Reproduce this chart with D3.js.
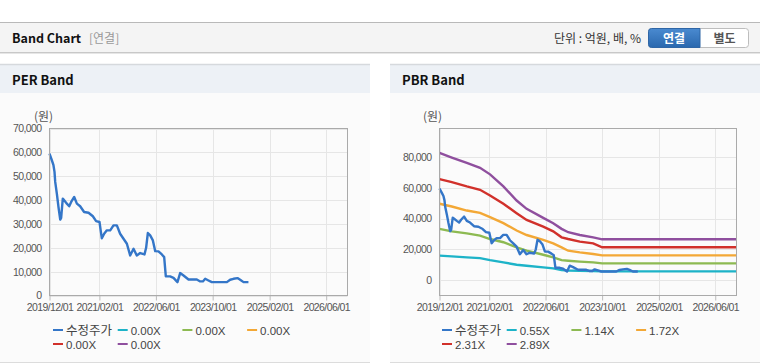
<!DOCTYPE html>
<html>
<head>
<meta charset="utf-8">
<script src="https://cdn.jsdelivr.net/npm/d3@7"></script>
<style>
  html, body { margin: 0; padding: 0; background: #fff; }
  svg { display: block; font-family: "Liberation Sans", Arial, sans-serif; }
  .kr { font-family: "Noto Sans CJK KR", "Noto Sans", sans-serif; }
  .tick-label { font-size: 10.5px; fill: #555; letter-spacing: -0.6px; }
</style>
</head>
<body>
<svg id="chart" width="760" height="364"></svg>
<script>
// price (수정주가) – same series in both panels
const priceDates = ['2019-12-01','2019-12-21','2020-01-04','2020-01-13','2020-01-19','2020-02-02','2020-02-16','2020-03-02','2020-03-10','2020-03-24','2020-04-05','2020-04-28','2020-05-18','2020-06-04','2020-06-30','2020-07-23','2020-08-20','2020-09-23','2020-10-31','2020-12-07','2021-01-04','2021-02-02','2021-02-13','2021-02-22','2021-03-14','2021-04-06','2021-05-05','2021-06-02','2021-07-01','2021-07-29','2021-08-27','2021-09-25','2021-10-23','2021-11-21','2021-12-19','2022-01-17','2022-02-23','2022-03-09','2022-03-24','2022-04-13','2022-05-06','2022-05-26','2022-06-23','2022-07-22','2022-08-11','2022-08-25','2022-10-01','2022-10-30','2022-12-03','2022-12-26','2023-01-24','2023-03-08','2023-05-18','2023-06-16','2023-07-09','2023-07-29','2023-08-26','2023-09-24','2024-01-31','2024-02-28','2024-03-28','2024-05-01','2024-05-24','2024-06-22','2024-08-03'];
const priceValues = [59500,56700,54600,51800,47600,42700,37100,31800,32500,40600,39900,38500,37400,39200,41300,38500,37400,35000,34700,33200,31200,30800,27000,24000,25900,27300,27300,29400,29400,25900,23800,21700,16800,19600,16800,17800,17200,20000,26200,25200,23100,18600,18500,17200,16100,8000,8000,7400,5600,9400,8400,6700,6700,5900,5900,7000,6300,5600,5600,6600,7000,7300,6600,5600,5600];

// PBR band lines
const bandDates = ['2019-12-01','2020-03-16','2020-07-23','2020-11-14','2021-02-08','2021-06-03','2021-09-25','2021-12-20','2022-05-12','2022-08-06','2022-10-17','2022-12-13','2023-03-23','2023-07-16','2023-10-01','2026-12-01'];
const pbr055 = [15900,15400,14800,14300,13000,11500,10000,9300,8300,7600,6500,6200,6100,5900,5700,5700];
const pbr114 = [33300,31700,30400,28900,26700,24600,21300,19100,16500,14800,13000,12600,12000,11500,10900,10900];
const pbr172 = [49600,47800,45200,43700,40900,37000,32200,29300,26100,23900,21300,19100,18000,17000,16100,16100];
const pbr231 = [65650,63700,60900,58700,55000,49600,43500,39100,34800,31700,27800,26700,25000,23900,21300,21300];
const pbr289 = [82600,79600,76100,73000,68700,60900,51700,46300,40400,37000,33300,31100,29300,27800,26500,26500];

const xTickDates = ['2019/12/01','2021/02/01','2022/06/01','2023/10/01','2025/02/01','2026/06/01'];
const perTicks = [0,10000,20000,30000,40000,50000,60000,70000];
const pbrTicks = [0,20000,40000,60000,80000];

const perLegend = ['수정주가','0.00X','0.00X','0.00X','0.00X','0.00X'];
const pbrLegend = ['수정주가','0.55X','1.14X','1.72X','2.31X','2.89X'];
const colors = ['#3476c8','#1db3c8','#8dba52','#f3a836','#d1312b','#8f4f9e'];

const parse = d3.timeParse('%Y-%m-%d');
const parseTick = d3.timeParse('%Y/%m/%d');
const fmt = d3.format(',');

const svg = d3.select('#chart');

// ---- top header bar ----
svg.append('rect').attr('x', 0).attr('y', 22).attr('width', 760).attr('height', 31).attr('fill', '#f4f4f4');
svg.append('line').attr('x1', 0).attr('x2', 760).attr('y1', 22.5).attr('y2', 22.5).attr('stroke', '#b9b9b9');
svg.append('line').attr('x1', 0).attr('x2', 760).attr('y1', 52.5).attr('y2', 52.5).attr('stroke', '#c8c8c8');
svg.append('line').attr('x1', 0).attr('x2', 760).attr('y1', 53.5).attr('y2', 53.5).attr('stroke', '#e6e6e6');
svg.append('text').attr('class', 'kr').attr('x', 12).attr('y', 43)
  .attr('font-size', 12.5).attr('font-weight', 'bold').attr('fill', '#111').text('Band Chart');
svg.append('text').attr('class', 'kr').attr('x', 89).attr('y', 43)
  .attr('font-size', 12).attr('fill', '#999').text('[연결]');
svg.append('text').attr('class', 'kr').attr('x', 641).attr('y', 43).attr('text-anchor', 'end')
  .attr('font-size', 12).attr('fill', '#333').text('단위 : 억원, 배, %');

// toggle buttons
const grad = svg.append('defs').append('linearGradient').attr('id', 'btn').attr('x1', 0).attr('x2', 0).attr('y1', 0).attr('y2', 1);
grad.append('stop').attr('offset', 0).attr('stop-color', '#4a8ad0');
grad.append('stop').attr('offset', 1).attr('stop-color', '#2a68ae');
svg.append('rect').attr('x', 648.5).attr('y', 28.5).attr('width', 100).attr('height', 19).attr('rx', 3)
  .attr('fill', '#fff').attr('stroke', '#bdbdbd');
svg.append('path').attr('d', 'M700,28.5 H651.5 Q648.5,28.5 648.5,31.5 V44.5 Q648.5,47.5 651.5,47.5 H700 Z')
  .attr('fill', 'url(#btn)').attr('stroke', '#2f66a6');
svg.append('text').attr('class', 'kr').attr('x', 674).attr('y', 42.5).attr('text-anchor', 'middle')
  .attr('font-size', 12).attr('font-weight', 'bold').attr('fill', '#fff').text('연결');
svg.append('text').attr('class', 'kr').attr('x', 724.5).attr('y', 42.5).attr('text-anchor', 'middle')
  .attr('font-size', 12).attr('font-weight', 'bold').attr('fill', '#555').text('별도');

function drawPanel(cfg) {
  const g = svg.append('g');
  const px = cfg.panelX, pw = 370;

  g.append('rect').attr('x', px).attr('y', 65).attr('width', pw).attr('height', 297).attr('fill', '#fbfbfb');
  g.append('rect').attr('x', px).attr('y', 64).attr('width', pw).attr('height', 29).attr('fill', '#edf1f6');
  g.append('line').attr('x1', px).attr('x2', px + pw).attr('y1', 64.5).attr('y2', 64.5).attr('stroke', '#d6d9dd').attr('stroke-width', 1.5);
  g.append('line').attr('x1', px).attr('x2', px + pw).attr('y1', 362.5).attr('y2', 362.5).attr('stroke', '#dcdcdc');
  g.append('text').attr('class', 'kr').attr('x', px + 12).attr('y', 85)
    .attr('font-size', 13).attr('font-weight', 'bold').attr('fill', '#111').text(cfg.title);

  const left = cfg.left, right = cfg.right, top = 128.5, bottom = 295.5;
  const x = d3.scaleTime().domain([parse('2019-12-01'), parse('2026-12-01')]).range([left, right]);
  const y = d3.scaleLinear().domain(cfg.yDomain).range([bottom, top]);

  // grid
  const xt = xTickDates.map(parseTick);
  g.selectAll('.vgrid').data(xt).enter().append('line')
    .attr('x1', d => Math.round(x(d)) + 0.5).attr('x2', d => Math.round(x(d)) + 0.5)
    .attr('y1', top).attr('y2', bottom).attr('stroke', '#e6e6e6');
  g.selectAll('.hgrid').data(cfg.yTicks).enter().append('line')
    .attr('x1', left).attr('x2', right)
    .attr('y1', d => Math.round(y(d)) + 0.5).attr('y2', d => Math.round(y(d)) + 0.5)
    .attr('stroke', '#e6e6e6');

  // x axis
  const xAxis = g.append('g').attr('transform', `translate(0,${bottom})`)
    .call(d3.axisBottom(x).tickValues(xt).tickSize(5).tickSizeOuter(0).tickFormat(d3.timeFormat('%Y/%m/%d')));
  xAxis.select('.domain').remove();
  xAxis.selectAll('.tick line').attr('stroke', '#bbb');
  xAxis.selectAll('text').attr('class', 'tick-label').attr('dy', '0.8em').attr('y', 7);

  // y axis labels
  const yAxis = g.append('g').attr('transform', `translate(${left},0)`)
    .call(d3.axisLeft(y).tickValues(cfg.yTicks).tickSize(0).tickPadding(8).tickFormat(fmt));
  yAxis.select('.domain').remove();
  yAxis.selectAll('text').attr('class', 'tick-label');

  g.append('text').attr('class', 'kr').attr('x', cfg.unitX).attr('y', 121)
    .attr('font-size', 12).attr('fill', '#555').text('(원)');

  // lines
  const line = d3.line().x(d => x(d[0])).y(d => y(d[1]));
  cfg.bands.forEach((vals, i) => {
    if (!vals) return;
    g.append('path').datum(bandDates.map((d, j) => [parse(d), vals[j]]))
      .attr('d', line).attr('fill', 'none').attr('stroke', colors[i + 1]).attr('stroke-width', 2.4);
  });
  g.append('path').datum(priceDates.map((d, j) => [parse(d), priceValues[j]]))
    .attr('d', line).attr('fill', 'none').attr('stroke', colors[0]).attr('stroke-width', 2.4)
    .attr('stroke-linejoin', 'round');

  // plot border
  g.append('rect').attr('x', left).attr('y', top).attr('width', right - left).attr('height', bottom - top)
    .attr('fill', 'none').attr('stroke', '#aaa');

  // legend
  const lg = g.selectAll('.legend').data(cfg.legend).enter().append('g')
    .attr('transform', (d, i) => `translate(${cfg.legendX + (i % 4) * 64.7},${330 + Math.floor(i / 4) * 14})`);
  lg.append('line').attr('x1', 0).attr('x2', 10).attr('y1', 0).attr('y2', 0)
    .attr('stroke', (d, i) => colors[i]).attr('stroke-width', 2);
  lg.append('text').attr('class', (d, i) => i === 0 ? 'kr' : null).attr('x', 13).attr('y', 4.5)
    .attr('font-size', (d, i) => i === 0 ? 12.5 : 11.5).attr('fill', '#444').text(d => d);
}

drawPanel({
  panelX: 0, title: 'PER Band', left: 49.5, right: 347.5, unitX: 34,
  yDomain: [0, 70000], yTicks: perTicks, bands: [null, null, null, null, null],
  legend: perLegend, legendX: 53
});
drawPanel({
  panelX: 390, title: 'PBR Band', left: 439.5, right: 736.5, unitX: 423,
  yDomain: [-10000, 98500], yTicks: pbrTicks, bands: [pbr055, pbr114, pbr172, pbr231, pbr289],
  legend: pbrLegend, legendX: 442
});
</script>
</body>
</html>
